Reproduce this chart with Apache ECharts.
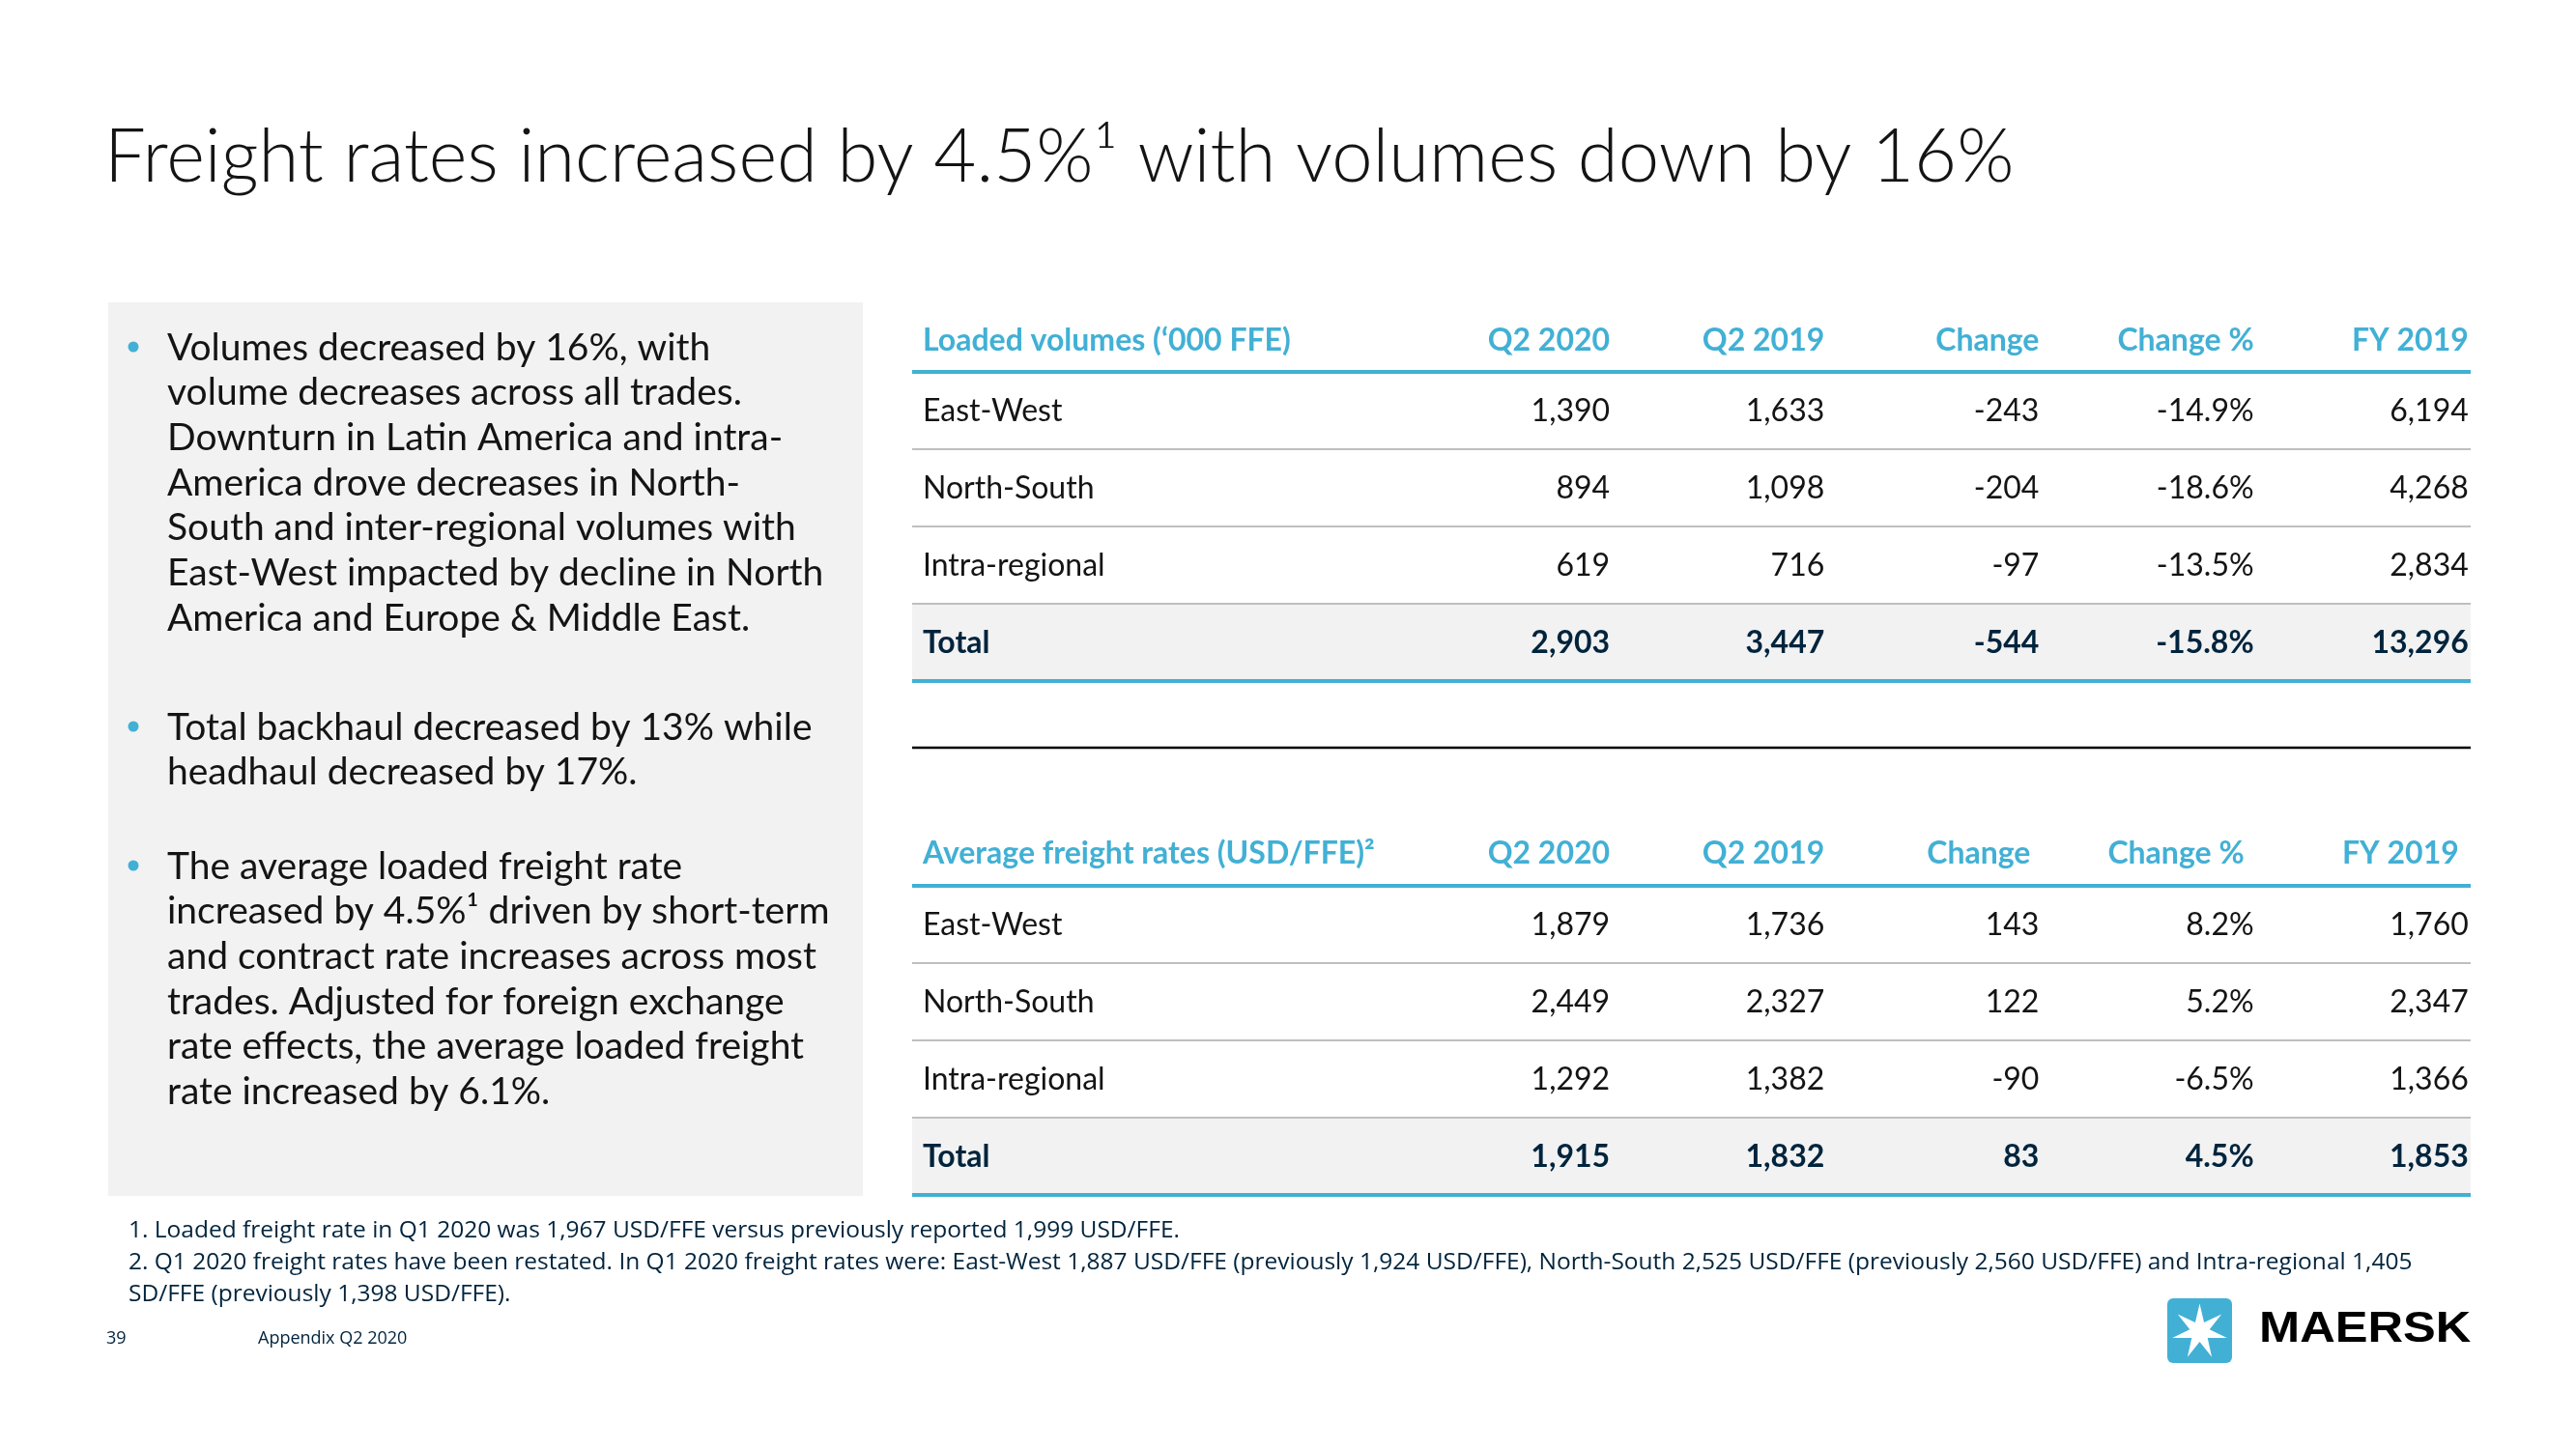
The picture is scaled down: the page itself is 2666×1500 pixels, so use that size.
<!DOCTYPE html>
<html><head><meta charset="utf-8">
<script src="https://cdn.jsdelivr.net/npm/echarts/dist/echarts.min.js"></script>
<style>html,body{margin:0;padding:0;background:#fff}#main{width:2666px;height:1500px}</style>
</head><body><div id="main"></div>
<script>
// ---------------- DATA ----------------
const slideTitle = 'Freight rates increased by 4.5%\u00B9 with volumes down by 16%';
const bullet1 = ['Volumes decreased by 16%, with','volume decreases across all trades.','Downturn in Latin America and intra-','America drove decreases in North-','South and inter-regional volumes with','East-West impacted by decline in North','America and Europe & Middle East.'];
const bullet2 = ['Total backhaul decreased by 13% while','headhaul decreased by 17%.'];
const bullet3 = ['The average loaded freight rate','increased by 4.5%\u00B9 driven by short-term','and contract rate increases across most','trades. Adjusted for foreign exchange','rate effects, the average loaded freight','rate increased by 6.1%.'];
const footnoteLines = ['1. Loaded freight rate in Q1 2020 was 1,967 USD/FFE versus previously reported 1,999 USD/FFE.','2. Q1 2020 freight rates have been restated. In Q1 2020 freight rates were: East-West 1,887 USD/FFE (previously 1,924 USD/FFE), North-South 2,525 USD/FFE (previously 2,560 USD/FFE) and Intra-regional 1,405','SD/FFE (previously 1,398 USD/FFE).'];
const pageNumber = '39';
const footerLabel = 'Appendix Q2 2020';
const brandName = 'MAERSK';

const rowLabels = ['East-West','North-South','Intra-regional','Total'];
const columnHeaders = ['Q2 2020','Q2 2019','Change','Change %','FY 2019'];
const columnKinds = ['int','int','int','pct','int'];

const volumeTitle = 'Loaded volumes (\u2018000 FFE)';
const volQ2_2020 = [1390, 894, 619, 2903];
const volQ2_2019 = [1633, 1098, 716, 3447];
const volChange = [-243, -204, -97, -544];
const volChangePct = [-14.9, -18.6, -13.5, -15.8];
const volFY2019 = [6194, 4268, 2834, 13296];

const rateTitle = 'Average freight rates (USD/FFE)\u00B2';
const rateQ2_2020 = [1879, 2449, 1292, 1915];
const rateQ2_2019 = [1736, 2327, 1382, 1832];
const rateChange = [143, 122, -90, 83];
const rateChangePct = [8.2, 5.2, -6.5, 4.5];
const rateFY2019 = [1760, 2347, 1366, 1853];

// ---------------- STYLE ----------------
const BLUE = '#42b0d5', DARK = '#141414', NAVY = '#00243d', GREY_LINE = '#bfbfbf', PANEL = '#f2f2f2';
const FONT = 'Lato';

function fmt(v, kind) {
  if (kind === 'pct') return v.toFixed(1) + '%';
  return v.toLocaleString('en-US');
}
function buildCells(title, cols) {
  const cells = [{col: 0, row: 0, text: title, header: true}];
  columnHeaders.forEach((h, i) => cells.push({col: i + 1, row: 0, text: h, header: true}));
  rowLabels.forEach((lab, r) => {
    cells.push({col: 0, row: r + 1, text: lab});
    cols.forEach((arr, i) => cells.push({col: i + 1, row: r + 1, text: fmt(arr[r], columnKinds[i])}));
  });
  return cells;
}
const tables = [
  {cells: buildCells(volumeTitle, [volQ2_2020, volQ2_2019, volChange, volChangePct, volFY2019]), top: 305, headerDy: 7, headerShift: [0, 0, 0, 0, 0, 0]},
  {cells: buildCells(rateTitle, [rateQ2_2020, rateQ2_2019, rateChange, rateChangePct, rateFY2019]), top: 837, headerDy: 6, headerShift: [0, 0, 0, -9, -10, -10]}
];
const nRows = rowLabels.length + 1;

const grids = [], xAxes = [], yAxes = [], series = [];
tables.forEach((t, ti) => {
  grids.push({left: 944, width: 1613, top: t.top, height: 400});
  xAxes.push({type: 'value', gridIndex: ti, min: -2.25, max: 5.01, show: false});
  yAxes.push({type: 'value', gridIndex: ti, min: 0, max: nRows, inverse: true, show: false});
  // total row background
  series.push({
    type: 'custom', xAxisIndex: ti, yAxisIndex: ti, silent: true,
    data: [[0, nRows - 1]],
    renderItem: (params, api) => {
      const cs = params.coordSys;
      const y0 = api.coord([0, api.value(1)])[1], y1 = api.coord([0, api.value(1) + 1])[1];
      return {type: 'rect', shape: {x: cs.x, y: y0, width: cs.width, height: y1 - y0}, style: {fill: PANEL}};
    }
  });
  // row rules
  const rules = [];
  for (let r = 1; r <= nRows; r++) rules.push([0, r]);
  series.push({
    type: 'custom', xAxisIndex: ti, yAxisIndex: ti, silent: true,
    data: rules,
    renderItem: (params, api) => {
      const cs = params.coordSys;
      const r = api.value(1);
      const y = api.coord([0, r])[1];
      const major = (r === 1 || r === nRows);
      return {type: 'line', shape: {x1: cs.x, y1: y, x2: cs.x + cs.width, y2: y},
        style: {stroke: major ? BLUE : GREY_LINE, lineWidth: major ? 4 : 2}};
    }
  });
  // cells
  series.push({
    type: 'custom', xAxisIndex: ti, yAxisIndex: ti, silent: true,
    data: t.cells.map(c => [c.col, c.row + 0.5]),
    renderItem: (params, api) => {
      const c = t.cells[params.dataIndex];
      const cs = params.coordSys;
      const p = api.coord([api.value(0), api.value(1)]);
      const isTotal = c.row === nRows - 1;
      let x = c.col === 0 ? cs.x + 11 : p[0];
      let y = p[1] + 1;
      if (c.header) { x += t.headerShift[c.col]; y += t.headerDy; }
      const bold = c.header || isTotal;
      const fill = c.header ? BLUE : (isTotal ? NAVY : DARK);
      const align = c.col === 0 ? 'left' : 'right';
      return {type: 'text', style: {text: c.text, x: x, y: y, fill: fill,
        font: (bold ? 'bold 32px ' : '32px ') + FONT,
        align: align, textAlign: align, verticalAlign: 'middle', textVerticalAlign: 'middle'}};
    }
  });
});

// ---------------- GRAPHIC (slide furniture) ----------------
function txt(text, x, y, font, fill) {
  return {type: 'text', silent: true, style: {text, x, y, font, fill,
    align: 'left', textAlign: 'left', verticalAlign: 'middle', textVerticalAlign: 'middle'}};
}
const graphics = [];
graphics.push(txt(slideTitle, 108, 163, '300 76px ' + FONT, DARK));
graphics.push({type: 'rect', silent: true, z: -1, shape: {x: 112, y: 313, width: 781, height: 925}, style: {fill: PANEL}});
const LH = 46.7;
[[bullet1, 360], [bullet2, 753], [bullet3, 897]].forEach(([lines, cy]) => {
  graphics.push({type: 'circle', silent: true, shape: {cx: 138, cy: cy - 1, r: 5.5}, style: {fill: BLUE}});
  graphics.push({type: 'text', silent: true, style: {text: lines.join('\n'), x: 173, y: cy - LH / 2, font: '39px ' + FONT,
    fill: DARK, lineHeight: LH, align: 'left', textAlign: 'left', verticalAlign: 'top', textVerticalAlign: 'top'}});
});
// separator between tables
graphics.push({type: 'line', silent: true, shape: {x1: 944, y1: 774, x2: 2557, y2: 774}, style: {stroke: '#000', lineWidth: 2.5}});
// footnotes
footnoteLines.forEach((l, i) => graphics.push(txt(l, 133, 1274 + i * 33, '24.5px "Open Sans"', NAVY)));
graphics.push(txt(pageNumber, 110, 1386, '18px "Open Sans"', NAVY));
graphics.push(txt(footerLabel, 267, 1386, '18px "Open Sans"', NAVY));
// logo
const lx = 2243, ly = 1344, ls = 67, cx = lx + ls / 2, cy = ly + ls / 2 + 1;
graphics.push({type: 'rect', silent: true, shape: {x: lx, y: ly, width: ls, height: ls, r: 6}, style: {fill: BLUE}});
const starPts = [];
for (let i = 0; i < 14; i++) {
  const a = -Math.PI / 2 + i * Math.PI / 7;
  const r = i % 2 ? 10.5 : 29;
  starPts.push([cx + r * Math.cos(a), cy + r * Math.sin(a)]);
}
graphics.push({type: 'polygon', silent: true, shape: {points: starPts}, style: {fill: '#fff'}});
graphics.push({type: 'text', silent: true, x: 2338, y: 1377, scaleX: 1.15, style: {text: brandName, x: 0, y: 0,
  font: 'bold 44px "Liberation Sans"', fill: '#000', align: 'left', textAlign: 'left', verticalAlign: 'middle', textVerticalAlign: 'middle'}});

const chart = echarts.init(document.getElementById('main'), null, {renderer: 'canvas'});
chart.setOption({
  backgroundColor: '#fff',
  animation: false,
  grid: grids, xAxis: xAxes, yAxis: yAxes, series: series,
  graphic: {elements: graphics}
});
</script></body></html>
